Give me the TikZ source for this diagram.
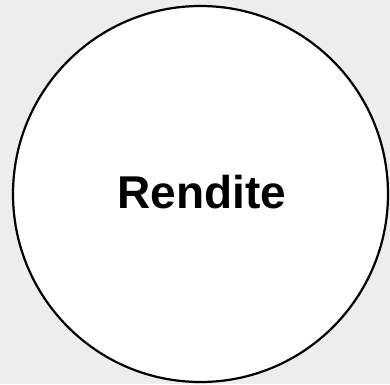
\documentclass[tikz,border=0pt]{standalone}
\usepackage{fontspec}
\setmainfont{Liberation Sans}
\usetikzlibrary{shapes.geometric}
\definecolor{bg}{HTML}{EDEDED}
\tikzset{
  circ/.style={ellipse, draw=black, line width=2.2pt, fill=white, minimum width=375pt, minimum height=376pt, inner sep=0pt},
  lbl/.style={font=\fontsize{46}{54}\selectfont\bfseries, inner sep=0pt}
}
\begin{document}
\begin{tikzpicture}[x=1pt,y=1pt]
  \fill[bg] (0,0) rectangle (390,384);
  \useasboundingbox (0,0) rectangle (390,384);
  \node[circ] (c) at (200.5,190) {};
  \node[lbl] (t) at (202,192) {Rendite};
\end{tikzpicture}
\end{document}
